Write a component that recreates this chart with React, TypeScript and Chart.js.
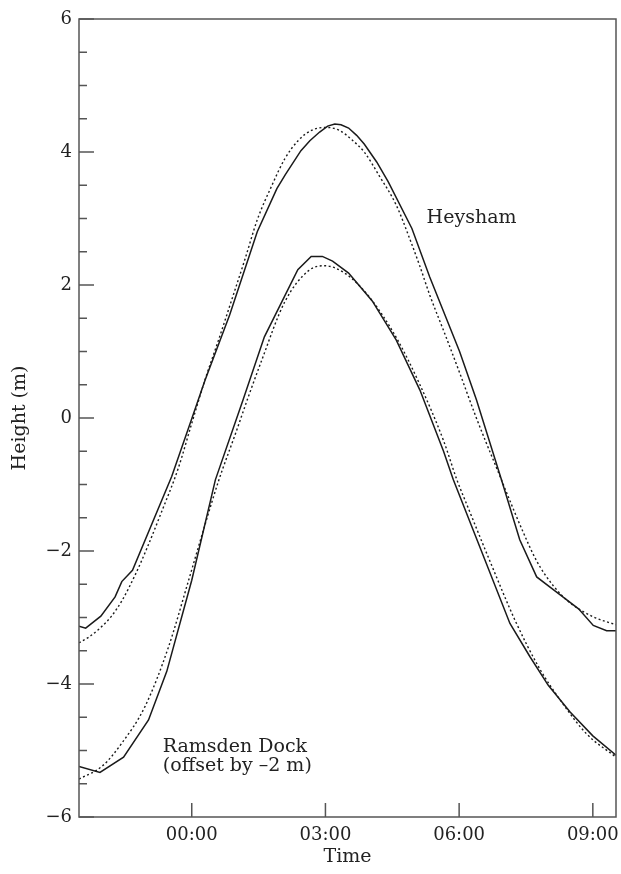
import React, { useEffect, useRef } from "react";
import { Chart, registerables } from "chart.js";

Chart.register(...registerables);

// Heysham observed (solid)
const heyshamObsT = [-2.53, -2.38, -2.04, -1.72, -1.57, -1.33, -0.45, 0.0, 0.3, 0.85, 1.47, 1.91, 2.1, 2.45, 2.65, 2.87, 3.05, 3.21, 3.35, 3.52, 3.7, 3.87, 4.15, 4.41, 4.94, 5.34, 6.01, 6.39, 6.95, 7.36, 7.74, 8.15, 8.68, 9.01, 9.31, 9.52];
const heyshamObsV = [-3.13, -3.16, -2.98, -2.69, -2.46, -2.29, -0.88, -0.01, 0.57, 1.55, 2.8, 3.45, 3.66, 4.02, 4.17, 4.3, 4.39, 4.42, 4.41, 4.36, 4.25, 4.12, 3.85, 3.55, 2.85, 2.12, 1.0, 0.27, -0.93, -1.83, -2.39, -2.6, -2.87, -3.12, -3.2, -3.2];

// Heysham predicted (dotted)
const heyshamPredT = [-2.53, -2.3, -2.06, -1.8, -1.56, -1.27, -1.0, -0.7, -0.3, 0.0, 0.3, 0.6, 0.85, 1.2, 1.47, 1.8, 2.09, 2.4, 2.7, 3.0, 3.3, 3.6, 3.87, 4.2, 4.59, 4.9, 5.12, 5.34, 5.7, 6.0, 6.37, 6.6, 6.84, 7.1, 7.4, 7.74, 8.11, 8.49, 9.01, 9.52];
const heyshamPredV = [-3.38, -3.29, -3.16, -2.98, -2.74, -2.36, -1.95, -1.45, -0.75, -0.08, 0.58, 1.17, 1.68, 2.4, 2.98, 3.5, 3.9, 4.18, 4.33, 4.37, 4.33, 4.18, 4.0, 3.65, 3.2, 2.68, 2.28, 1.85, 1.23, 0.7, 0.03, -0.36, -0.75, -1.18, -1.66, -2.15, -2.52, -2.78, -2.99, -3.11];

// Ramsden Dock observed (solid, offset by -2 m)
const ramsdenObsT = [-2.53, -2.06, -1.53, -0.97, -0.56, 0.0, 0.53, 1.15, 1.63, 2.38, 2.68, 2.93, 3.16, 3.52, 4.05, 4.59, 5.12, 5.65, 5.87, 6.5, 7.14, 7.59, 8.0, 8.49, 9.0, 9.52];
const ramsdenObsV = [-5.24, -5.33, -5.1, -4.54, -3.81, -2.44, -0.93, 0.27, 1.22, 2.23, 2.43, 2.43, 2.36, 2.18, 1.76, 1.17, 0.42, -0.5, -0.93, -2.0, -3.09, -3.59, -4.02, -4.42, -4.78, -5.07];

// Ramsden Dock predicted (dotted, offset by -2 m)
const ramsdenPredT = [-2.53, -2.0, -1.57, -1.05, -0.52, -0.07, 0.3, 0.6, 1.0, 1.26, 1.56, 2.09, 2.63, 2.98, 3.43, 3.96, 4.59, 5.12, 5.65, 5.95, 6.19, 6.72, 7.26, 7.79, 8.33, 8.86, 9.52];
const ramsdenPredV = [-5.43, -5.23, -4.89, -4.34, -3.44, -2.44, -1.6, -0.95, -0.2, 0.3, 0.85, 1.75, 2.22, 2.29, 2.18, 1.84, 1.21, 0.5, -0.34, -0.93, -1.33, -2.2, -3.05, -3.75, -4.3, -4.75, -5.1];

const xTickValues = [0, 3, 6, 9];
const xTickLabels = ["00:00", "03:00", "06:00", "09:00"];
const xRange = [-2.53, 9.52];
const yRange = [-6, 6];

const xTitle = "Time";
const yTitle = "Height (m)";

const annotationTexts = [["Heysham"], ["Ramsden Dock", "(offset by \u20132 m)"]];
const annotationT = [5.27, -0.65];
const annotationV = [2.93, -5.03];

const FONT = "'DejaVu Serif', serif";
const INK = "#222";
const AXIS = "#555";

function fmtY(v: number) {
  return v < 0 ? "\u2212" + Math.abs(v) : String(v);
}

function pts(t: number[], v: number[]) {
  return t.map((x, i) => ({ x, y: v[i] }));
}

const framePlugin = {
  id: "frame",
  afterDraw(chart: any) {
    const { ctx, chartArea, scales } = chart;
    const xs = scales.x;
    const ys = scales.y;
    ctx.save();
    ctx.strokeStyle = AXIS;
    ctx.lineWidth = 1.5;
    ctx.strokeRect(chartArea.left, chartArea.top, chartArea.right - chartArea.left, chartArea.bottom - chartArea.top);
    ctx.beginPath();
    ys.ticks.forEach((tk: any) => {
      const y = ys.getPixelForValue(tk.value);
      const major = Math.abs(tk.value % 2) < 1e-9;
      ctx.moveTo(chartArea.left, y);
      ctx.lineTo(chartArea.left + (major ? 15 : 8), y);
    });
    xTickValues.forEach((v) => {
      const x = xs.getPixelForValue(v);
      ctx.moveTo(x, chartArea.bottom);
      ctx.lineTo(x, chartArea.bottom - 14);
    });
    ctx.stroke();

    ctx.fillStyle = INK;
    ctx.font = "19px " + FONT;
    ctx.textAlign = "left";
    ctx.textBaseline = "alphabetic";
    annotationTexts.forEach((lines, i) => {
      const x = xs.getPixelForValue(annotationT[i]);
      const y = ys.getPixelForValue(annotationV[i]);
      lines.forEach((ln, j) => ctx.fillText(ln, x, y + j * 19));
    });
    ctx.restore();
  },
};

export default function App() {
  const ref = useRef<HTMLCanvasElement>(null);
  useEffect(() => {
    if (!ref.current) return;
    const solid = { borderColor: "#1a1a1a", borderWidth: 1.5, pointRadius: 0, tension: 0, fill: false };
    const dotted = { borderColor: "#1a1a1a", borderWidth: 1.4, borderDash: [2, 2.5], pointRadius: 0, cubicInterpolationMode: "monotone", fill: false };
    const chart = new Chart(ref.current, {
      type: "line",
      data: {
        datasets: [
          { label: "Heysham observed", data: pts(heyshamObsT, heyshamObsV), ...solid },
          { label: "Heysham predicted", data: pts(heyshamPredT, heyshamPredV), ...dotted },
          { label: "Ramsden observed", data: pts(ramsdenObsT, ramsdenObsV), ...solid },
          { label: "Ramsden predicted", data: pts(ramsdenPredT, ramsdenPredV), ...dotted },
        ] as any,
      },
      options: {
        animation: false,
        responsive: false,
        maintainAspectRatio: false,
        layout: { padding: { top: 19, right: 5, left: 0, bottom: 0 } },
        plugins: { legend: { display: false }, tooltip: { enabled: false } },
        scales: {
          x: {
            type: "linear",
            min: xRange[0],
            max: xRange[1],
            afterBuildTicks: (s: any) => {
              s.ticks = xTickValues.map((v) => ({ value: v }));
            },
            afterFit: (s: any) => {
              s.height = 57;
              s.paddingLeft = 0;
              s.paddingRight = 0;
            },
            ticks: {
              autoSkip: false,
              maxRotation: 0,
              padding: 8,
              color: INK,
              font: { family: FONT, size: 18 },
              callback: (v: any) => {
                const i = xTickValues.indexOf(Number(v));
                return i >= 0 ? xTickLabels[i] : "";
              },
            },
            grid: { display: false, drawTicks: false },
            border: { display: false },
            title: { display: true, text: xTitle, color: INK, font: { family: FONT, size: 19 }, padding: { top: 0, bottom: 6 } },
          },
          y: {
            type: "linear",
            min: yRange[0],
            max: yRange[1],
            afterFit: (s: any) => {
              s.width = 79;
              s.paddingTop = 0;
              s.paddingBottom = 0;
            },
            ticks: {
              stepSize: 0.5,
              autoSkip: false,
              padding: 7,
              color: INK,
              font: { family: FONT, size: 18 },
              callback: (v: any) => (Math.abs(Number(v) % 2) < 1e-9 ? fmtY(Number(v)) : ""),
            },
            grid: { display: false, drawTicks: false },
            border: { display: false },
            title: { display: true, text: yTitle, color: INK, font: { family: FONT, size: 19 }, padding: { top: 9, bottom: 0 } },
          },
        },
      } as any,
      plugins: [framePlugin],
    });
    return () => chart.destroy();
  }, []);
  return (
    <div style={{ position: "fixed", left: 0, top: 0, width: 621, height: 874, background: "#fff" }}>
      <canvas ref={ref} width={621} height={874} style={{ display: "block" }} />
    </div>
  );
}
